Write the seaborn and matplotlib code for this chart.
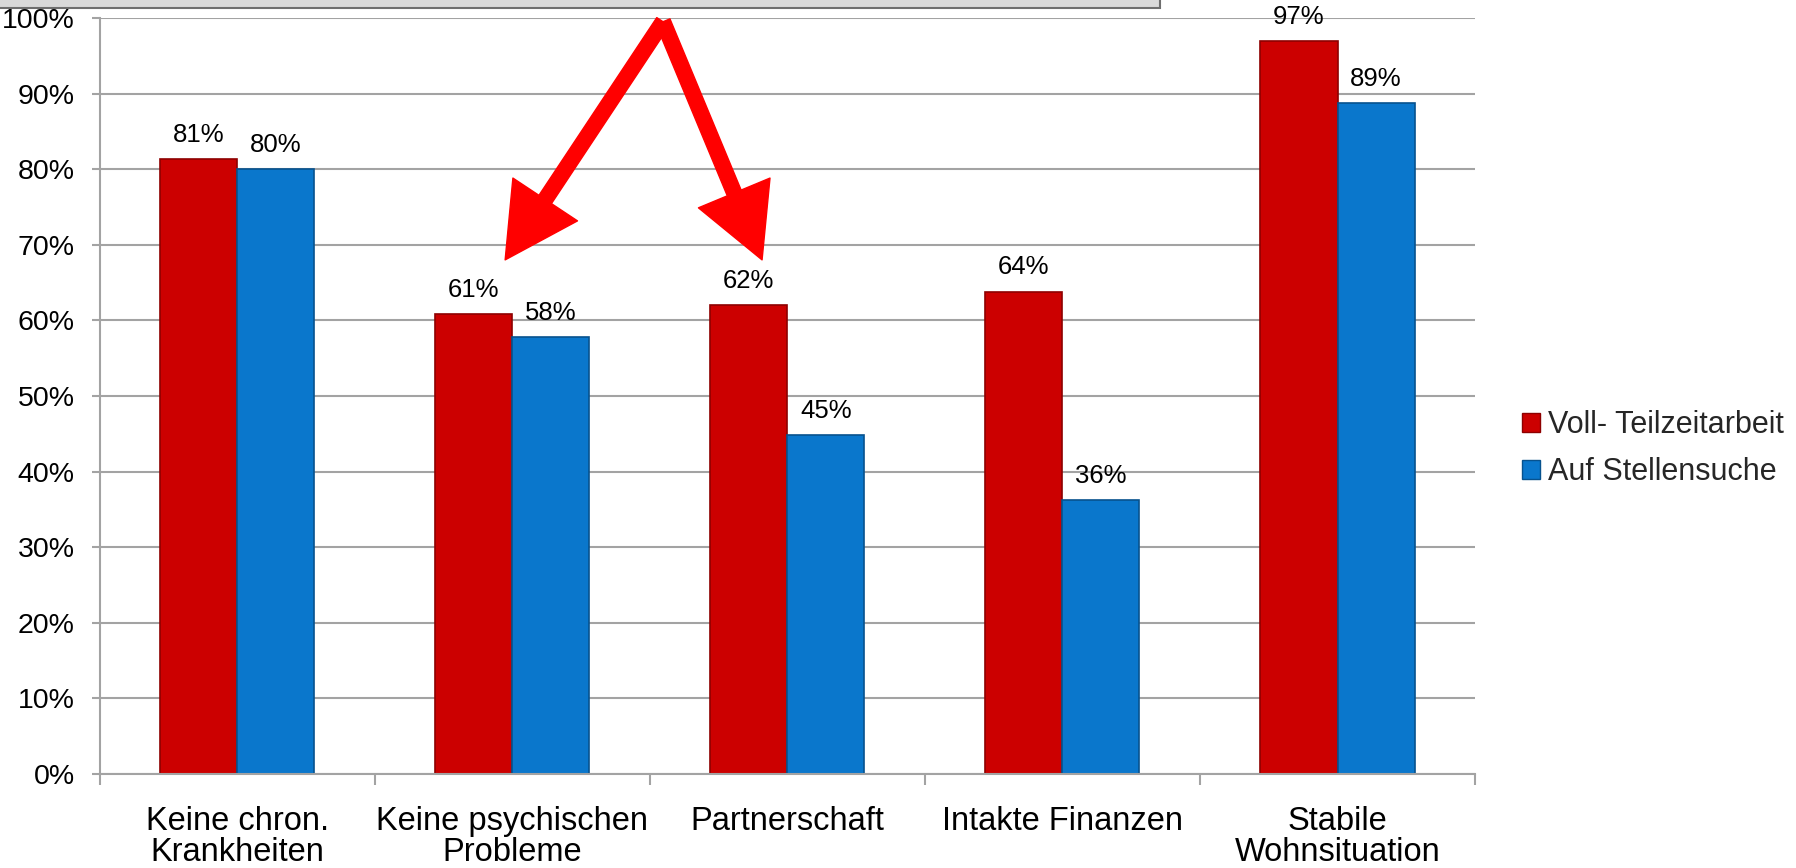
import pandas as pd
import matplotlib.pyplot as plt
import matplotlib.patches as mpatches
import seaborn as sns
from matplotlib.ticker import PercentFormatter, FixedLocator

categories = ['Keine chron.\nKrankheiten', 'Keine psychischen\nProbleme', 'Partnerschaft',
              'Intakte Finanzen', 'Stabile\nWohnsituation']
series = ['Voll- Teilzeitarbeit', 'Auf Stellensuche']
vollzeit = [0.813, 0.608, 0.620, 0.638, 0.969]
stellensuche = [0.800, 0.578, 0.448, 0.362, 0.887]
yticks = [0, 0.1, 0.2, 0.3, 0.4, 0.5, 0.6, 0.7, 0.8, 0.9, 1.0]

df = pd.DataFrame({
    'Kategorie': categories * 2,
    'Gruppe': [series[0]] * 5 + [series[1]] * 5,
    'Wert': vollzeit + stellensuche,
})

sns.set_theme(style="white")
plt.rcParams['font.family'] = ['Liberation Sans', 'DejaVu Sans']

fig = plt.figure(figsize=(17.96, 8.68), dpi=100)
ax = fig.add_axes([0.0555, 0.1083, 0.7658, 0.871])

colors = ['#cc0000', '#0a77cc']
edges = ['#8e0000', '#07528e']
sns.barplot(data=df, x='Kategorie', y='Wert', hue='Gruppe', palette=colors,
            width=0.56, gap=0, ax=ax, legend=False, saturation=1)

for cont, ec in zip(ax.containers, edges):
    for p in cont:
        p.set_edgecolor(ec)
        p.set_linewidth(1.2)
    ax.bar_label(cont, labels=[f'{round(v.get_height() * 100):d}%' for v in cont],
                 padding=9, fontsize=18.5, color='black')

ax.set_xlim(-0.5, 4.5)
ax.set_ylim(0, 1.0)
ax.yaxis.set_major_locator(FixedLocator(yticks))
ax.yaxis.set_major_formatter(PercentFormatter(1.0, decimals=0))
ax.yaxis.grid(True, color='#a3a3a3', linewidth=1.5)
ax.set_axisbelow(True)
ax.set_xlabel('')
ax.set_ylabel('')

for s in ['top', 'right']:
    ax.spines[s].set_visible(False)
for s in ['left', 'bottom']:
    ax.spines[s].set_color('#a3a3a3')
    ax.spines[s].set_linewidth(1.5)

ax.tick_params(axis='y', which='major', left=True, length=6, width=1.5, color='#a3a3a3',
               labelsize=20.5, pad=12, labelcolor='black')
ax.set_xticks(range(5))
ax.set_xticklabels(categories, linespacing=1.0)
ax.set_xticks([-0.5, 0.5, 1.5, 2.5, 3.5, 4.5], minor=True)
ax.tick_params(axis='x', which='major', length=0, labelsize=23.5, pad=23, labelcolor='black')
ax.tick_params(axis='x', which='minor', bottom=True, length=8, width=1.5, color='#a3a3a3')

# legend
handles = [mpatches.Patch(facecolor=c, edgecolor=e, label=l) for c, e, l in zip(colors, edges, series)]
fig.legend(handles=handles, loc='center left', bbox_to_anchor=(0.832, 0.483), frameon=False,
           fontsize=22, handlelength=0.6, handleheight=0.6, handletextpad=0.25, labelspacing=0.55)

# arrows from the cut off text box
for tx, ty in [(0.974, 0.680), (1.908, 0.680)]:
    ax.annotate('', xy=(tx, ty), xytext=(1.548, 0.995),
                arrowprops=dict(arrowstyle='simple,head_length=2.9,head_width=3.1,tail_width=0.6',
                                color='#ff0000', shrinkA=0, shrinkB=0, mutation_scale=18),
                annotation_clip=False)

# text box at the top, cut off
fig.patches.append(mpatches.Rectangle((-0.01, 1 - 8 / 868), 1160 / 1796 + 0.01, 0.05,
                                      transform=fig.transFigure, facecolor='#d9d9d9',
                                      edgecolor='#6e6e6e', linewidth=1.5, zorder=5))

fig.savefig('out.png', dpi=100)
